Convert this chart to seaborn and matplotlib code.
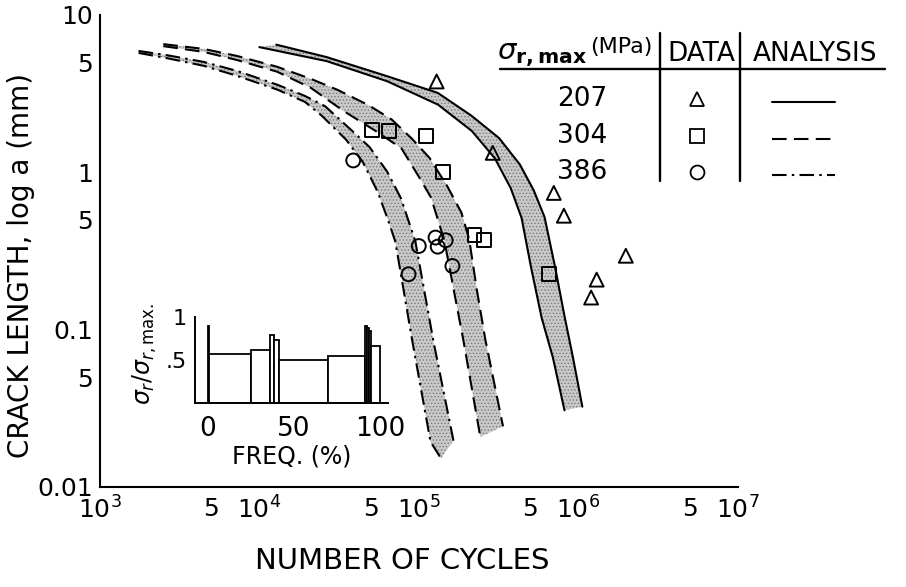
import numpy as np
import pandas as pd
import matplotlib
matplotlib.use('Agg')
import matplotlib.pyplot as plt
from matplotlib.lines import Line2D
import seaborn as sns

sns.set_theme(style='white')
plt.rcParams['font.family'] = ['DejaVu Sans']
plt.rcParams['mathtext.fontset'] = 'dejavusans'
plt.rcParams['hatch.linewidth'] = 0.6
plt.rcParams['text.color'] = 'black'
plt.rcParams['axes.labelcolor'] = 'black'
plt.rcParams['xtick.color'] = 'black'
plt.rcParams['ytick.color'] = 'black'

# test data (cycles, crack length in mm)
tri_N = [1.29e5, 2.9e5, 7.0e5, 8.1e5, 1.98e6, 1.30e6, 1.20e6]
tri_a = [3.78, 1.33, 0.74, 0.53, 0.295, 0.208, 0.16]
sq_N = [5.1e4, 6.5e4, 1.11e5, 1.42e5, 2.23e5, 2.57e5, 6.57e5]
sq_a = [1.87, 1.83, 1.71, 1.01, 0.40, 0.37, 0.226]
circ_N = [3.87e4, 9.97e4, 1.27e5, 1.31e5, 1.47e5, 1.62e5, 8.6e4]
circ_a = [1.19, 0.34, 0.385, 0.337, 0.37, 0.254, 0.225]

# analysis bands, two edges per stress level
b207_outer_N = [1.274e4, 2.637e4, 6.322e4, 1.311e5, 2.132e5, 3.178e5, 4.293e5, 5.239e5,
                6.124e5, 7.131e5, 8.182e5, 9.215e5, 1.057e6]
b207_outer_a = [6.48, 5.40, 4.08, 3.20, 2.29, 1.65, 1.12, 0.769, 0.520, 0.250, 0.121, 0.0672, 0.0324]
b207_inner_N = [9.98e3, 2.641e4, 6.335e4, 1.318e5, 2.146e5, 2.985e5, 3.754e5, 4.395e5,
                5.044e5, 5.873e5, 6.907e5, 8.17e5]
b207_inner_a = [6.25, 5.09, 3.79, 2.69, 1.83, 1.23, 0.796, 0.514, 0.248, 0.119, 0.0666, 0.0307]

b304_outer_N = [2494, 4453, 7189, 12870, 20830, 30920, 47980, 67300, 90600, 1.168e5,
                1.512e5, 1.845e5, 2.065e5, 2.303e5, 2.605e5, 3.363e5]
b304_outer_a = [6.53, 6.09, 5.50, 4.69, 3.94, 3.34, 2.68, 2.17, 1.63, 1.23, 0.808, 0.555,
                0.374, 0.180, 0.0867, 0.0243]
b304_inner_N = [2496, 4459, 7203, 12900, 20920, 33540, 54490, 77620, 99000, 1.189e5,
                1.441e5, 1.653e5, 1.897e5, 2.424e5]
b304_inner_a = [6.34, 5.83, 5.18, 4.36, 3.45, 2.46, 1.81, 1.42, 0.951, 0.692, 0.370, 0.178,
                0.0858, 0.0208]

b386_outer_N = [1744, 2617, 4478, 7238, 12970, 19250, 25810, 37970, 48900, 63170, 77120,
                94820, 1.231e5, 1.645e5]
b386_outer_a = [5.91, 5.56, 5.03, 4.41, 3.60, 3.06, 2.63, 1.84, 1.45, 1.01, 0.683, 0.365,
                0.0847, 0.0197]
b386_inner_N = [1746, 2621, 4486, 7254, 13000, 19300, 24460, 34960, 44490, 55180, 64600,
                71080, 90940, 1.181e5, 1.374e5]
b386_inner_a = [5.74, 5.32, 4.75, 4.10, 3.35, 2.80, 2.30, 1.61, 1.16, 0.749, 0.484, 0.362,
                0.0839, 0.0194, 0.0152]

stress_labels = ['207', '304', '386']

# inset: stress spectrum
freq_left = [0, 0.5, 25, 36, 38.5, 41.5, 70, 91.5, 92.5, 93.5, 94.5]
freq_width = [0.5, 24.5, 11, 2.5, 3, 28.5, 21.5, 1, 1, 1, 5.5]
freq_height = [0.90, 0.57, 0.62, 0.79, 0.73, 0.50, 0.55, 0.90, 0.87, 0.84, 0.66]

W, H = 906, 587
fig = plt.figure(figsize=(W / 100, H / 100), dpi=100)
ax = fig.add_axes([100 / W, 1 - 487 / H, 638 / W, 472 / H])
ax.set_xscale('log')
ax.set_yscale('log')

dash_304 = (0, (7, 3.5))
dash_386 = (0, (7, 2.5, 1.2, 2.5))
bands = [
    (b207_outer_N, b207_outer_a, b207_inner_N, b207_inner_a, '-'),
    (b304_outer_N, b304_outer_a, b304_inner_N, b304_inner_a, dash_304),
    (b386_outer_N, b386_outer_a, b386_inner_N, b386_inner_a, dash_386),
]
for oN, oa, iN, ia, ls in bands:
    ax.fill(list(oN) + list(iN)[::-1], list(oa) + list(ia)[::-1],
            facecolor='#c9c9c9', edgecolor='#7a7a7a', hatch='.....', linewidth=0, zorder=1)
    sns.lineplot(x=oN, y=oa, sort=False, estimator=None, color='black', lw=1.5,
                 linestyle=ls, ax=ax, zorder=2)
    sns.lineplot(x=iN, y=ia, sort=False, estimator=None, color='black', lw=1.5,
                 linestyle=ls, ax=ax, zorder=2)

for xs, ys, m in [(tri_N, tri_a, '^'), (sq_N, sq_a, 's'), (circ_N, circ_a, 'o')]:
    sns.scatterplot(x=xs, y=ys, marker=m, s=100, facecolor='none', edgecolor='black',
                    linewidth=1.4, ax=ax, zorder=3)

ax.set_xlim(1e3, 1e7)
ax.set_ylim(0.01, 10)
ax.set_xticks([1e3, 1e4, 1e5, 1e6, 1e7], [r'$10^{3}$', r'$10^{4}$', r'$10^{5}$', r'$10^{6}$', r'$10^{7}$'])
ax.set_xticks([5e3, 5e4, 5e5, 5e6], ['5'] * 4, minor=True)
ax.set_yticks([0.01, 0.1, 1, 10], ['0.01', '0.1', '1', '10'])
ax.set_yticks([0.05, 0.5, 5], ['5'] * 3, minor=True)
ax.tick_params(which='both', direction='in', length=11, width=1.3, labelsize=18,
               colors='black', pad=7)
ax.tick_params(axis='y', which='both', pad=5)
sns.despine(ax=ax)
for s in ['left', 'bottom']:
    ax.spines[s].set_color('black')
    ax.spines[s].set_linewidth(1.5)
ax.set_xlabel('NUMBER OF CYCLES', fontsize=21)
ax.xaxis.set_label_coords(0.473, -0.128)
ax.set_ylabel('CRACK LENGTH, log a (mm)', fontsize=20)
ax.yaxis.set_label_coords(-0.102, 0.47)
ax.patch.set_alpha(0)

# inset
axin = fig.add_axes([195 / W, 1 - 403 / H, 193 / W, 86 / H])
axin.bar(freq_left, freq_height, width=freq_width, align='edge',
         facecolor='white', edgecolor='black', linewidth=1.3)
axin.set_xlim(-7.5, 104.6)
axin.set_ylim(0, 1)
axin.set_xticks([0, 50, 100])
axin.set_yticks([0.5, 1], ['.5', '1'])
sns.despine(ax=axin)
for s in ['left', 'bottom']:
    axin.spines[s].set_color('black')
    axin.spines[s].set_linewidth(1.4)
axin.tick_params(direction='out', length=7, width=1.3, labelsize=19, colors='black', pad=2)
axin.tick_params(axis='y', length=5, labelsize=16, pad=1)
axin.set_xlabel('FREQ. (%)', fontsize=17, labelpad=2)
axin.set_ylabel(r'$\sigma_r/\sigma_{r,\mathrm{max.}}$', fontsize=17)
axin.yaxis.set_label_coords(-0.185, 0.57)
axin.patch.set_alpha(0)


def fxy(px, py):
    return px / W, 1 - py / H


# legend table
fig.text(*fxy(497, 60), r'$\sigma_{\mathbf{r,max}}$', fontsize=21, ha='left', va='baseline')
fig.text(*fxy(590, 53), '(MPa)', fontsize=16, ha='left', va='baseline')
fig.text(*fxy(701, 61), 'DATA', fontsize=19, ha='center', va='baseline')
fig.text(*fxy(815, 61), 'ANALYSIS', fontsize=19, ha='center', va='baseline')
fig.add_artist(Line2D([500 / W, 885 / W], [1 - 69 / H, 1 - 69 / H], color='black', lw=1.7))
for px in [660, 740]:
    fig.add_artist(Line2D([px / W, px / W], [1 - 33 / H, 1 - 181 / H], color='black', lw=1.7))

row_y = [99, 136, 172]
row_marker = ['^', 's', 'o']
row_ls = ['-', dash_304, dash_386]
for lab, yy, m, ls in zip(stress_labels, row_y, row_marker, row_ls):
    fig.text(*fxy(582, yy), lab, fontsize=19, ha='center', va='center')
    fig.add_artist(Line2D([697 / W], [1 - yy / H], marker=m, markersize=10,
                          markerfacecolor='none', markeredgecolor='black', mew=1.3, lw=0))
    fig.add_artist(Line2D([772 / W, 835 / W], [1 - (yy + 3) / H] * 2, color='black',
                          lw=1.5, linestyle=ls))

fig.savefig('out.png', dpi=100)
